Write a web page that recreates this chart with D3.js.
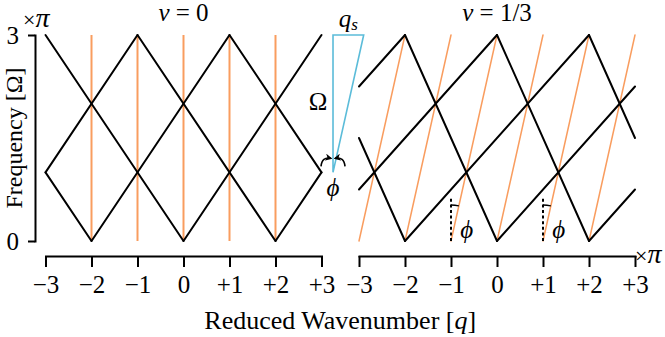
<!DOCTYPE html>
<html lang="en">
<head>
<meta charset="UTF-8">
<title>Folded dispersion</title>
<script src="https://d3js.org/d3.v7.min.js"></script>
<style>
  body { margin: 0; background: #fff; }
  svg { display: block; font-family: "Liberation Serif", "DejaVu Serif", serif; }
  .axis path, .axis line { stroke: #000; stroke-width: 2px; }
  .axis text { font-size: 25px; fill: #000; font-family: "Liberation Serif", serif; }
  .black { stroke: #000; stroke-width: 2px; fill: none; }
  .orange { stroke: #f99d5f; fill: none; }
</style>
</head>
<body>
<div id="chart"></div>
<script>
// ticks along q (units of pi)
const qTicks = [-3, -2, -1, 0, 1, 2, 3];
const qTickLabels = ["\u22123", "\u22122", "\u22121", "0", "+1", "+2", "+3"];
const wTicks = [0, 3];
const wTickLabels = ["0", "3"];

// nu = 0 : branches as [q1, w1, q2, w2]
const blackNu0 = [
  [-2, 0, 1, 3], [0, 0, 3, 3], [2, 0, 3, 1], [-3, 1, -1, 3],
  [-3, 1, -2, 0], [-3, 3, 0, 0], [-1, 3, 2, 0], [1, 3, 3, 1]
];
const orangeNu0 = [-2, -1, 0, 1, 2];

// nu = 1/3 : branches as [q1, w1, q2, w2]
const blackNu13 = [
  [-3, 2.25, -2, 3], [-3, 0.75, 0, 3], [-2, 0, 2, 3], [0, 0, 3, 2.25], [2, 0, 3, 0.75],
  [-3, 1.5, -2, 0], [-2, 3, 0, 0], [0, 3, 2, 0], [2, 3, 3, 1.5]
];
const orangeNu13 = [
  [-3, 0, -2, 3], [-2, 0, -1, 3], [-1, 0, 0, 3], [0, 0, 1, 3], [1, 0, 2, 3], [2, 0, 3, 3]
];
const dottedQ = [-1, 1];
const dottedTop = 0.65;

// the small sketch between the panels (in right panel units)
const sketchQ = -3.565;
const sketchQs = 0.667;
const sketchW = [1, 3];

const width = 665, height = 337;
const svg = d3.select("#chart").append("svg")
  .attr("width", width).attr("height", height);

const y = d3.scaleLinear().domain([0, 3]).range([241, 35]);
const xL = d3.scaleLinear().domain([-3, 3]).range([45.5, 321.5]);
const xR = d3.scaleLinear().domain([-3, 3]).range([359, 635]);

function seg(g, data, x, cls, sw) {
  g.selectAll(null).data(data).enter().append("line")
    .attr("class", cls)
    .attr("stroke-width", sw)
    .attr("x1", d => x(d[0])).attr("y1", d => y(d[1]))
    .attr("x2", d => x(d[2])).attr("y2", d => y(d[3]))
    .attr("stroke-linecap", "round");
}

// ---- left panel
const gL = svg.append("g");
gL.selectAll(null).data(orangeNu0).enter().append("line")
  .attr("class", "orange").attr("stroke-width", 2)
  .attr("x1", d => xL(d)).attr("x2", d => xL(d))
  .attr("y1", y(0)).attr("y2", y(3));
seg(gL, blackNu0, xL, "black", 2);

// ---- right panel
const gR = svg.append("g");
seg(gR, orangeNu13, xR, "orange", 1.5);
seg(gR, blackNu13, xR, "black", 2);
gR.selectAll(null).data(dottedQ).enter().append("line")
  .attr("stroke", "#000").attr("stroke-width", 2)
  .attr("stroke-dasharray", "3,2.6")
  .attr("x1", d => xR(d)).attr("x2", d => xR(d))
  .attr("y1", y(0)).attr("y2", y(dottedTop));

// small angle arcs between dotted line and orange branch
const phiAng = Math.atan((xR(1) - xR(0)) / (y(0) - y(3)));
const rArc = 36;
dottedQ.forEach(q => {
  const cx = xR(q), cy = y(0);
  gR.append("path")
    .attr("d", `M${cx},${cy - rArc} A${rArc},${rArc} 0 0 1 ${cx + rArc * Math.sin(phiAng)},${cy - rArc * Math.cos(phiAng)}`)
    .attr("stroke", "#000").attr("stroke-width", 1.3).attr("fill", "none");
  gR.append("text")
    .attr("x", xR(q + 0.34)).attr("y", y(0) - 3)
    .attr("text-anchor", "middle")
    .attr("font-size", 25).attr("font-style", "italic")
    .text("\u03d5");
});

// ---- axes
const fmt = d => qTickLabels[qTicks.indexOf(d)];
[xL, xR].forEach(x => {
  svg.append("g").attr("class", "axis")
    .attr("transform", "translate(0,256)")
    .call(d3.axisBottom(x).tickValues(qTicks).tickFormat(fmt)
      .tickSize(11).tickSizeOuter(0).tickPadding(8));
});
svg.append("g").attr("class", "axis")
  .attr("transform", "translate(35,0)")
  .call(d3.axisLeft(y).tickValues(wTicks).tickFormat(d => wTickLabels[wTicks.indexOf(d)])
    .tickSize(7).tickSizeOuter(0).tickPadding(9));
svg.selectAll(".axis .domain").attr("stroke-linecap", "square");

// ---- sketch: q_s / Omega triangle
const ax = xR(sketchQ), ay = y(sketchW[0]), ty = y(sketchW[1]);
const tx = xR(sketchQ + sketchQs);
svg.append("path")
  .attr("d", `M${ax},${ay} L${ax},${ty} L${tx},${ty} Z`)
  .attr("stroke", "#5bbcd9").attr("stroke-width", 1.6).attr("fill", "none");

svg.append("defs").append("marker")
  .attr("id", "head").attr("viewBox", "0 0 10 10")
  .attr("refX", 8).attr("refY", 5)
  .attr("markerWidth", 4.5).attr("markerHeight", 4.5)
  .attr("orient", "auto")
  .append("path").attr("d", "M0,0 L10,5 L0,10 L3,5 Z").attr("fill", "#000");
[-1, 1].forEach(s => {
  svg.append("path")
    .attr("d", `M${ax + s * 12},${ay - 6} Q${ax + s * 11},${ay - 16} ${ax + s * 2},${ay - 14}`)
    .attr("stroke", "#000").attr("stroke-width", 1.6).attr("fill", "none")
    .attr("marker-end", "url(#head)");
});

const label = (x, yy, txt, size, italic, anchor) => svg.append("text")
  .attr("x", x).attr("y", yy)
  .attr("text-anchor", anchor || "middle")
  .attr("font-size", size)
  .attr("font-style", italic ? "italic" : "normal")
  .text(txt);

label(ax, ay + 24, "\u03d5", 25, true);
label(ax - 15, 110, "\u03a9", 25, false);
const qs = label((ax + tx) / 2, 27, "", 25, true);
qs.append("tspan").text("q");
qs.append("tspan").attr("font-size", 17).attr("dy", 3).text("s");

// titles
const t0 = label(xL(0), 21, "", 25, false);
t0.append("tspan").attr("font-style", "italic").text("\u03bd");
t0.append("tspan").text(" = 0");
const t1 = label(xR(0), 21, "", 25, false);
t1.append("tspan").attr("font-style", "italic").text("\u03bd");
t1.append("tspan").text(" = 1/3");

// scale markers
const m1 = label(23, 27, "\u00d7", 22, false, "start");
m1.append("tspan").attr("font-size", 28).attr("font-style", "italic").text("\u03c0");
const m2 = label(635, 263, "\u00d7", 22, false, "start");
m2.append("tspan").attr("font-size", 28).attr("font-style", "italic").text("\u03c0");

// axis titles
const xt = label((xL(-3) + xR(3)) / 2, 329, "Reduced Wavenumber [", 26, false);
xt.append("tspan").attr("font-style", "italic").text("q");
xt.append("tspan").text("]");
svg.append("text")
  .attr("transform", `translate(22,${(y(0) + y(3)) / 2}) rotate(-90)`)
  .attr("text-anchor", "middle").attr("font-size", 24)
  .text("Frequency [\u03a9]");
</script>
</body>
</html>
